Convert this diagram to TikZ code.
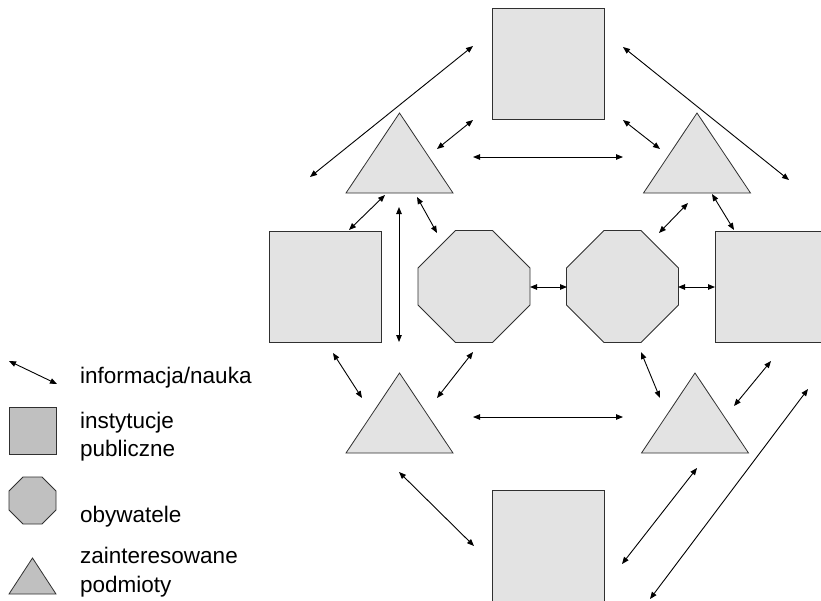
\documentclass[tikz,border=0pt]{standalone}
\usepackage{fontspec}
\setmainfont{Liberation Sans}
\usetikzlibrary{arrows.meta}
\definecolor{shapefill}{HTML}{E3E3E3}
\definecolor{legfill}{HTML}{C0C0C0}
\definecolor{edgecol}{HTML}{303030}
\tikzset{
  arr/.style={{Triangle[length=7pt,width=5.5pt]}-{Triangle[length=7pt,width=5.5pt]}, line width=0.9pt, black},
  shp/.style={draw=edgecol, fill=shapefill, line width=0.8pt, line join=miter},
  sqbox/.style={rectangle, shp, minimum width=112pt, minimum height=111pt, inner sep=0pt},
  legtext/.style={anchor=base west, inner sep=0pt, font=\fontsize{22.5}{27}\selectfont}
}
\newcommand\myoct[5]{% x, y, half, shorthalf, style
  \draw[#5] ({#1-#3},{#2-#4}) -- ({#1-#3},{#2+#4}) -- ({#1-#4},{#2+#3}) -- ({#1+#4},{#2+#3})
    -- ({#1+#3},{#2+#4}) -- ({#1+#3},{#2-#4}) -- ({#1+#4},{#2-#3}) -- ({#1-#4},{#2-#3}) -- cycle;}
\newcommand\mytri[5]{% cx, apex y, base y, halfwidth, style
  \draw[#5] (#1,#2) -- ({#1+#4},#3) -- ({#1-#4},#3) -- cycle;}
\begin{document}
\begin{tikzpicture}[x=1pt,y=-1pt]
\clip (0,0) rectangle (821,600);
\fill[white] (0,0) rectangle (821,600);
% squares
\node[sqbox] (sqT) at (548,64) {};
\node[sqbox] (sqL) at (325,286.5) {};
\node[sqbox] (sqR) at (771,286.5) {};
\node[sqbox] (sqB) at (548,546) {};
% octagons
\coordinate (octL) at (474,286.5);
\coordinate (octR) at (622.5,286.5);
\myoct{474}{286.5}{56}{18.5}{shp}
\myoct{622.5}{286.5}{56}{18.5}{shp}
% triangles
\coordinate (triTL) at (399.5,160);
\coordinate (triTR) at (697,160);
\coordinate (triBL) at (399.5,420);
\coordinate (triBR) at (695,420);
\mytri{399.5}{113}{193}{53.5}{shp}
\mytri{697}{113}{193}{53.5}{shp}
\mytri{399.5}{373}{453}{53.5}{shp}
\mytri{695}{373}{453}{53.5}{shp}
% arrows
\foreach \n/\ax/\ay/\bx/\by in {
  a1/310/177/473/46, a2/437/149/473/120, a3/473/157/623/157, a4/623/120/660/149,
  a5/623/47/789/180, a6/385/195/349/230, a7/399/207/399/342, a8/417/197/437/233,
  a9/688/203/659/233, a10/712/194/734/230, a11/530/287/567/287, a12/678/287/715/287,
  a13/333/353/362/398, a14/473/352/437/398, a15/473/417/623/417, a16/641/352/660/398,
  a17/771/361/734/406, a18/808/389/650/599, a19/697/468/622/564, a20/399/472/474/546}
{
  \coordinate (\n s) at (\ax,\ay);
  \coordinate (\n e) at (\bx,\by);
  \draw[arr] (\n s) -- (\n e);
}
% legend
\coordinate (legAs) at (9,361);
\coordinate (legAe) at (57,384);
\draw[arr] (legAs) -- (legAe);
\node[rectangle, draw=edgecol, fill=legfill, line width=0.8pt, minimum width=47pt, minimum height=47pt, inner sep=0pt] (legSq) at (32.5,430.5) {};
\coordinate (legOct) at (32.5,500.5);
\myoct{32.5}{500.5}{23.5}{9.5}{draw=edgecol, fill=legfill, line width=0.8pt}
\coordinate (legTri) at (32.5,576);
\mytri{32.5}{558}{594}{23.5}{draw=edgecol, fill=legfill, line width=0.8pt}
\node[legtext] (t1) at (80,383) {informacja/nauka};
\node[legtext] (t2) at (80,428) {instytucje};
\node[legtext] (t3) at (80,456) {publiczne};
\node[legtext] (t4) at (80,522) {obywatele};
\node[legtext] (t5) at (80,563) {zainteresowane};
\node[legtext] (t6) at (80,592) {podmioty};
\end{tikzpicture}
\end{document}
